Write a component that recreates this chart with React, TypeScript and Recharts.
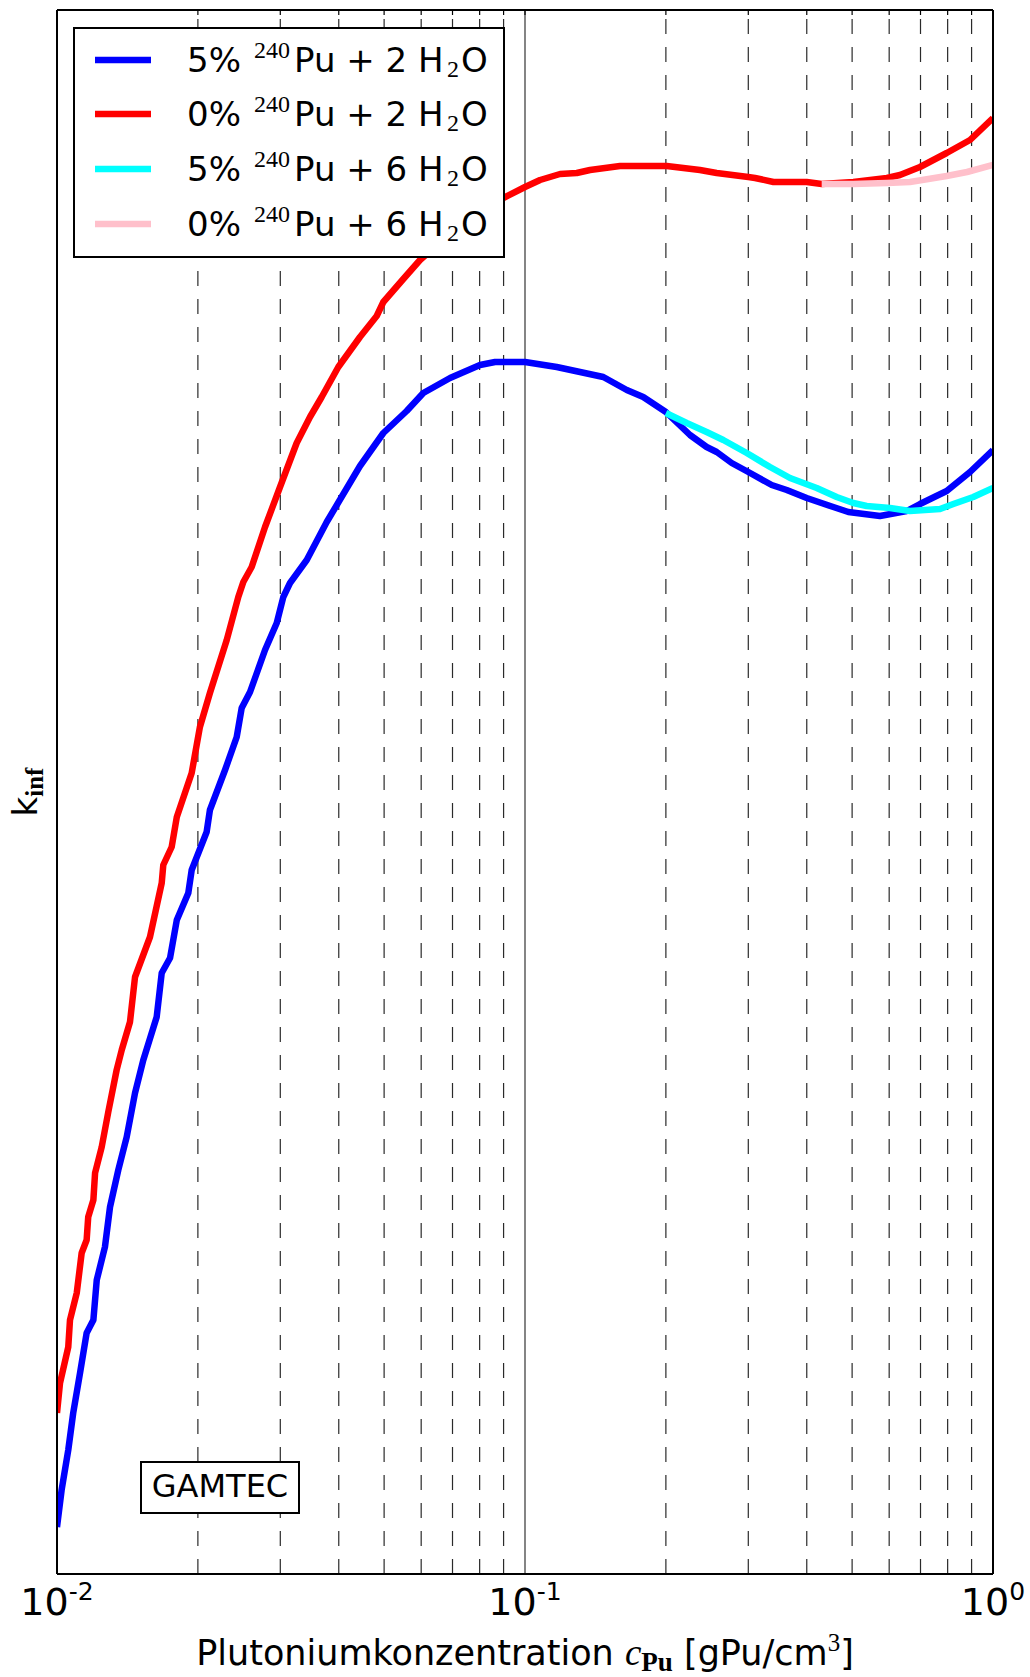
import React from "react";
import { LineChart, Line, XAxis, YAxis, ReferenceLine } from "recharts";

// Plutoniumkonzentration c [gPu/cm^3] und k_inf (ohne Skala in der Vorlage, willkürliche Einheiten)
const blueC = [0.01, 0.01023, 0.01057, 0.01083, 0.0112, 0.01157, 0.01196, 0.01216, 0.01266, 0.01298, 0.01352, 0.01409, 0.01468, 0.01529, 0.01633, 0.01674, 0.01744, 0.01803, 0.01908, 0.0194, 0.02088, 0.02122, 0.02286, 0.02421, 0.02481, 0.02585, 0.02783, 0.02948, 0.03045, 0.03147, 0.03417, 0.0377, 0.0444, 0.04981, 0.05587, 0.06063, 0.06916, 0.08013, 0.08629, 0.1, 0.1169, 0.1311, 0.147, 0.165, 0.1789, 0.2, 0.2252, 0.2444, 0.2568, 0.2765, 0.3, 0.3366, 0.3625, 0.3999, 0.4558, 0.4907, 0.5734, 0.6541, 0.6982, 0.7962, 0.8931, 1.0];
const blueK = [47, 84, 124, 161, 201, 241, 254, 294, 327, 367, 404, 437, 481, 514, 557, 601, 616, 654, 681, 704, 742, 764, 804, 837, 866, 882, 924, 951, 977, 991, 1014, 1052, 1108, 1141, 1163, 1181, 1196, 1209, 1212, 1212, 1207, 1202, 1197, 1184, 1177, 1162, 1139, 1127, 1122, 1111, 1102, 1089, 1084, 1076, 1067, 1062, 1058, 1063, 1070, 1083, 1102, 1124];

const redC = [0.01, 0.01015, 0.01057, 0.01066, 0.01102, 0.01129, 0.01157, 0.01166, 0.01196, 0.01206, 0.01246, 0.01287, 0.01341, 0.01375, 0.01432, 0.01468, 0.0158, 0.01674, 0.01687, 0.01758, 0.01803, 0.0194, 0.0202, 0.02122, 0.02305, 0.0244, 0.02501, 0.02606, 0.02783, 0.02996, 0.03252, 0.03472, 0.03678, 0.03991, 0.0444, 0.04821, 0.04981, 0.05495, 0.05966, 0.07263, 0.08989, 0.1, 0.1077, 0.1188, 0.129, 0.1377, 0.1596, 0.2008, 0.2365, 0.2568, 0.3, 0.3101, 0.3395, 0.3999, 0.4305, 0.5029, 0.5931, 0.6327, 0.6982, 0.7962, 0.8931, 1.0];
const redK = [161, 191, 227, 254, 281, 321, 334, 357, 374, 401, 427, 462, 504, 524, 552, 597, 637, 691, 709, 727, 757, 801, 847, 881, 934, 977, 992, 1007, 1047, 1087, 1131, 1157, 1177, 1207, 1237, 1258, 1272, 1295, 1314, 1349, 1376, 1387, 1394, 1400, 1401, 1404, 1408, 1408, 1404, 1401, 1397, 1396, 1392, 1392, 1390, 1392, 1396, 1399, 1407, 1421, 1434, 1456];

const cyanC = [0.2, 0.2216, 0.2444, 0.2653, 0.2977, 0.3339, 0.3684, 0.4201, 0.4634, 0.5029, 0.5372, 0.6026, 0.6646, 0.7706, 0.8227, 0.9075, 1.0];
const cyanK = [1161, 1151, 1142, 1134, 1121, 1107, 1096, 1086, 1077, 1071, 1068, 1066, 1063, 1065, 1070, 1077, 1086];

const pinkC = [0.4305, 0.5029, 0.5931, 0.6646, 0.7962, 0.8801, 1.0];
const pinkK = [1390, 1390, 1391, 1392, 1398, 1402, 1409];

const majorTicks = [0.01, 0.1, 1];
const minorTicks = [0.02, 0.03, 0.04, 0.05, 0.06, 0.07, 0.08, 0.09, 0.2, 0.3, 0.4, 0.5, 0.6, 0.7, 0.8, 0.9];

const seriesNames = ["5%", "0%", "5%", "0%"];
const seriesWater = ["2", "2", "6", "6"];
const seriesColors = ["#0000ff", "#ff0000", "#00ffff", "#ffc0cb"];

const K_MAX = 1564;
const SANS = "DejaVu Sans";
const SERIF = "Liberation Serif";
const LW = 6.5;

const zip = (cs: number[], ks: number[]) => cs.map((c, i) => ({ c, k: ks[i] }));
const blueData = zip(blueC, blueK);
const redData = zip(redC, redK);
const cyanData = zip(cyanC, cyanK);
const pinkData = zip(pinkC, pinkK);

function PowerTick({ x, y, payload }: any) {
  const exp = Math.round(Math.log10(payload.value));
  return (
    <text x={x} y={y + 41} textAnchor="middle" fontFamily={SANS} fontSize={38} fill="#000">
      10
      <tspan dy={-15} fontSize={25}>
        {String(exp)}
      </tspan>
    </text>
  );
}

function XLabel({ viewBox }: any) {
  const cx = viewBox.x + viewBox.width / 2;
  return (
    <text x={cx} y={viewBox.y + 91} textAnchor="middle" fontFamily={SANS} fontSize={35} fill="#000">
      {"Plutoniumkonzentration "}
      <tspan fontFamily={SERIF} fontStyle="italic" fontSize={37}>c</tspan>
      <tspan fontFamily={SERIF} fontWeight="bold" fontSize={27} dy={6}>Pu</tspan>
      <tspan dy={-6}>{" [gPu/cm"}</tspan>
      <tspan fontFamily={SERIF} fontSize={25} dy={-14}>3</tspan>
      <tspan dy={14}>]</tspan>
    </text>
  );
}

function LegendBox() {
  const rows = [60, 114, 169, 224];
  return (
    <g>
      <rect x={74} y={28} width={430} height={229} fill="#fff" stroke="#000" strokeWidth={2} />
      {rows.map((cy, i) => (
        <g key={i}>
          <line x1={95} x2={151} y1={cy} y2={cy} stroke={seriesColors[i]} strokeWidth={LW} />
          <text y={cy + 12} fontFamily={SANS} fontSize={34} fill="#000">
            <tspan x={187}>{seriesNames[i]}</tspan>
            <tspan x={254} dy={-14} fontFamily={SERIF} fontSize={24}>240</tspan>
            <tspan x={294} dy={14}>{`Pu + ${seriesWater[i]} H`}</tspan>
            <tspan x={447} dy={5} fontFamily={SERIF} fontSize={24}>2</tspan>
            <tspan x={461} dy={-5}>O</tspan>
          </text>
        </g>
      ))}
    </g>
  );
}

export default function App() {
  return (
    <div style={{ position: "absolute", left: 0, top: 0, width: 1030, height: 1677, background: "#fff" }}>
      <LineChart width={1030} height={1677} margin={{ top: 10, right: 37, bottom: 53, left: 57 }}>
        <XAxis
          dataKey="c"
          type="number"
          scale="log"
          domain={[0.01, 1]}
          ticks={majorTicks}
          allowDataOverflow
          height={50}
          tickLine={false}
          tickSize={0}
          tickMargin={0}
          tick={<PowerTick />}
          axisLine={{ stroke: "#000", strokeWidth: 2 }}
          label={<XLabel />}
        />
        <YAxis type="number" domain={[0, K_MAX]} allowDataOverflow hide />
        {minorTicks.map((c) => (
          <ReferenceLine key={`g${c}`} x={c} stroke="#2a2a2a" strokeWidth={1.2} strokeDasharray="15 13" />
        ))}
        <ReferenceLine x={0.1} stroke="#333" strokeWidth={1.2} />
        {[...minorTicks, ...majorTicks].map((c) => (
          <ReferenceLine
            key={`t${c}`}
            segment={[{ x: c, y: K_MAX - 5 }, { x: c, y: K_MAX }]}
            stroke="#000"
            strokeWidth={1.2}
            ifOverflow="visible"
          />
        ))}
        <Line data={blueData} dataKey="k" type="linear" stroke={seriesColors[0]} strokeWidth={LW} dot={false} isAnimationActive={false} strokeLinejoin="round" />
        <Line data={redData} dataKey="k" type="linear" stroke={seriesColors[1]} strokeWidth={LW} dot={false} isAnimationActive={false} strokeLinejoin="round" />
        <Line data={cyanData} dataKey="k" type="linear" stroke={seriesColors[2]} strokeWidth={LW} dot={false} isAnimationActive={false} strokeLinejoin="round" />
        <Line data={pinkData} dataKey="k" type="linear" stroke={seriesColors[3]} strokeWidth={LW} dot={false} isAnimationActive={false} strokeLinejoin="round" />
        <ReferenceLine x={0.01} stroke="#000" strokeWidth={2} />
        <ReferenceLine x={1} stroke="#000" strokeWidth={2} />
        <ReferenceLine y={K_MAX} stroke="#000" strokeWidth={2} />
      </LineChart>
      <svg width={1030} height={1677} style={{ position: "absolute", left: 0, top: 0, pointerEvents: "none" }}>
        <LegendBox />
        <rect x={141} y={1462} width={158} height={51} fill="#fff" stroke="#000" strokeWidth={2} />
        <text x={220} y={1497} textAnchor="middle" fontFamily={SANS} fontSize={32} fill="#000">
          GAMTEC
        </text>
        <text x={37} y={792} transform="rotate(-90, 37, 792)" textAnchor="middle" fontFamily={SANS} fontSize={34} fill="#000">
          k
          <tspan fontFamily={SERIF} fontWeight="bold" fontSize={25} dy={6}>inf</tspan>
        </text>
      </svg>
    </div>
  );
}
